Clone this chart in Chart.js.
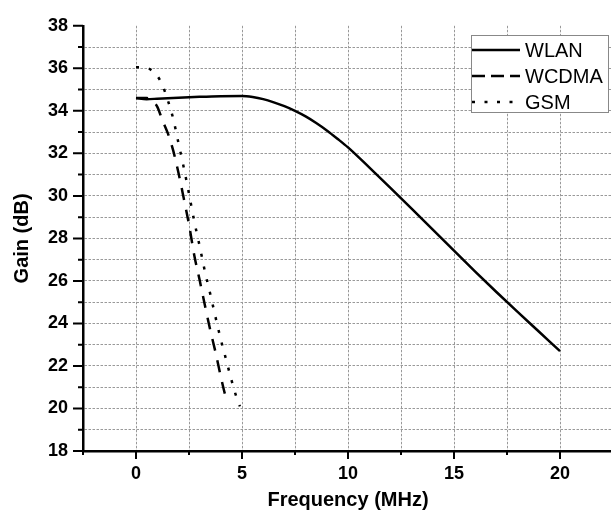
<!DOCTYPE html>
<html>
<head>
<meta charset="utf-8">
<script src="https://cdn.jsdelivr.net/npm/chart.js@4.4.0/dist/chart.umd.min.js"></script>
<style>
  html, body { margin: 0; padding: 0; background: #fff; overflow: hidden; }
  #wrap { width: 625px; height: 515px; }
</style>
</head>
<body>
<div id="wrap"><canvas id="gainChart" width="625" height="515"></canvas></div>
<script>
// series (frequency in MHz, gain in dB)
const wlanFreq = [0, 0.5, 1, 2, 3, 4, 5, 5.5, 6, 6.5, 7, 7.5, 8, 8.5, 9, 9.5, 10, 11, 12, 13, 14, 15, 16, 17, 18, 19, 20];
const wlanGain = [34.6, 34.55, 34.57, 34.62, 34.66, 34.69, 34.7, 34.65, 34.55, 34.4, 34.22, 34.0, 33.74, 33.43, 33.08, 32.69, 32.28, 31.34, 30.38, 29.4, 28.41, 27.42, 26.44, 25.48, 24.54, 23.62, 22.7];

const wcdmaFreq = [0, 0.5, 0.8, 1.0, 1.25, 1.5, 1.75, 2.0, 2.25, 2.5, 2.75, 3.0, 3.25, 3.5, 3.75, 4.0, 4.25, 4.35];
const wcdmaGain = [34.6, 34.6, 34.45, 34.2, 33.55, 32.95, 32.15, 31.1, 29.9, 28.65, 27.2, 26.05, 24.85, 23.7, 22.65, 21.5, 20.5, 20.3];

const gsmFreq = [0, 0.5, 0.75, 1.0, 1.25, 1.5, 1.75, 2.0, 2.25, 2.5, 2.75, 3.0, 3.25, 3.5, 3.75, 4.0, 4.25, 4.5, 4.75, 4.9];
const gsmGain = [36.05, 36.02, 35.9, 35.65, 35.2, 34.5, 33.65, 32.5, 31.35, 30.1, 28.8, 27.65, 26.45, 25.4, 24.3, 23.25, 22.3, 21.35, 20.5, 20.1];

const seriesNames = ['WLAN', 'WCDMA', 'GSM'];
const plotDash = [[], [12, 10], [3, 10]];
const legendDash = [[], [13, 6], [3, 9.5]];

const FONT = '"Liberation Sans", Arial, sans-serif';

function toPoints(xs, ys) {
    return xs.map((f, i) => ({ x: f, y: ys[i] }));
}

const seriesData = [
    toPoints(wlanFreq, wlanGain),
    toPoints(wcdmaFreq, wcdmaGain),
    toPoints(gsmFreq, gsmGain)
];

// short major / minor tick marks outside the axes
const tickMarks = {
    id: 'tickMarks',
    afterDraw(chart) {
        const { ctx, chartArea: a, scales: { x, y } } = chart;
        ctx.save();
        ctx.strokeStyle = '#000';
        ctx.lineWidth = 2;
        ctx.beginPath();
        x.ticks.forEach(t => {
            const px = x.getPixelForValue(t.value);
            const len = t.value % 5 === 0 ? 8 : 4;
            ctx.moveTo(px, a.bottom);
            ctx.lineTo(px, a.bottom + len);
        });
        y.ticks.forEach(t => {
            const py = y.getPixelForValue(t.value);
            const len = t.value % 2 === 0 ? 10 : 5;
            ctx.moveTo(a.left, py);
            ctx.lineTo(a.left - len, py);
        });
        ctx.stroke();
        ctx.restore();
    }
};

// boxed legend in the upper right corner
const boxLegend = {
    id: 'boxLegend',
    afterDraw(chart) {
        const ctx = chart.ctx;
        const left = 471, top = 35, w = 137, h = 77;
        ctx.save();
        ctx.fillStyle = '#fff';
        ctx.fillRect(left, top, w, h);
        ctx.strokeStyle = '#888';
        ctx.lineWidth = 1;
        ctx.strokeRect(left + 0.5, top + 0.5, w, h);
        ctx.font = '20px ' + FONT;
        ctx.textBaseline = 'middle';
        ctx.fillStyle = '#000';
        chart.data.datasets.forEach((ds, i) => {
            const cy = 50 + i * 26;
            ctx.beginPath();
            ctx.setLineDash(legendDash[i]);
            ctx.lineWidth = 2.5;
            ctx.strokeStyle = '#000';
            ctx.moveTo(472, cy);
            ctx.lineTo(520, cy);
            ctx.stroke();
            ctx.setLineDash([]);
            ctx.fillText(ds.label, 525, cy + 1);
        });
        ctx.restore();
    }
};

const ctx = document.getElementById('gainChart').getContext('2d');
new Chart(ctx, {
    type: 'line',
    data: {
        datasets: seriesNames.map((name, i) => ({
            label: name,
            data: seriesData[i],
            borderColor: '#000',
            borderWidth: 2.5,
            borderDash: plotDash[i],
            pointRadius: 0,
            fill: false,
            cubicInterpolationMode: 'monotone'
        }))
    },
    options: {
        responsive: false,
        animation: false,
        layout: { padding: { top: 20, right: 10, left: 0, bottom: 0 } },
        plugins: {
            legend: { display: false },
            tooltip: { enabled: false }
        },
        scales: {
            x: {
                type: 'linear',
                min: -2.5,
                max: 22.5,
                afterFit: s => { s.height = 64; },
                ticks: {
                    stepSize: 2.5,
                    autoSkip: false,
                    maxRotation: 0,
                    padding: 12,
                    color: '#000',
                    font: { family: FONT, size: 18, weight: 'bold' },
                    callback: v => (v % 5 === 0 ? v : '')
                },
                grid: {
                    drawTicks: false,
                    lineWidth: 1,
                    color: c => (c.tick && (c.tick.value === -2.5 || c.tick.value === 22.5)) ? 'rgba(0,0,0,0)' : '#999'
                },
                border: { color: '#000', width: 2.5, dash: [2.5, 1.5] },
                title: {
                    display: true,
                    text: 'Frequency (MHz)',
                    color: '#000',
                    font: { family: FONT, size: 20, weight: 'bold' },
                    padding: { top: 0, bottom: 3 }
                }
            },
            y: {
                min: 18,
                max: 38,
                afterFit: s => { s.width = 83; },
                ticks: {
                    stepSize: 1,
                    autoSkip: false,
                    padding: 15,
                    color: '#000',
                    font: { family: FONT, size: 18, weight: 'bold' },
                    callback: v => (v % 2 === 0 ? v : '')
                },
                grid: {
                    drawTicks: false,
                    lineWidth: 1,
                    color: c => (c.tick && (c.tick.value === 18 || c.tick.value === 38)) ? 'rgba(0,0,0,0)' : '#999'
                },
                border: { color: '#000', width: 2.5, dash: [2.5, 1.5] },
                title: {
                    display: true,
                    text: 'Gain (dB)',
                    color: '#000',
                    font: { family: FONT, size: 20, weight: 'bold' },
                    padding: { top: 10, bottom: 0 }
                }
            }
        }
    },
    plugins: [tickMarks, boxLegend]
});
</script>
</body>
</html>
